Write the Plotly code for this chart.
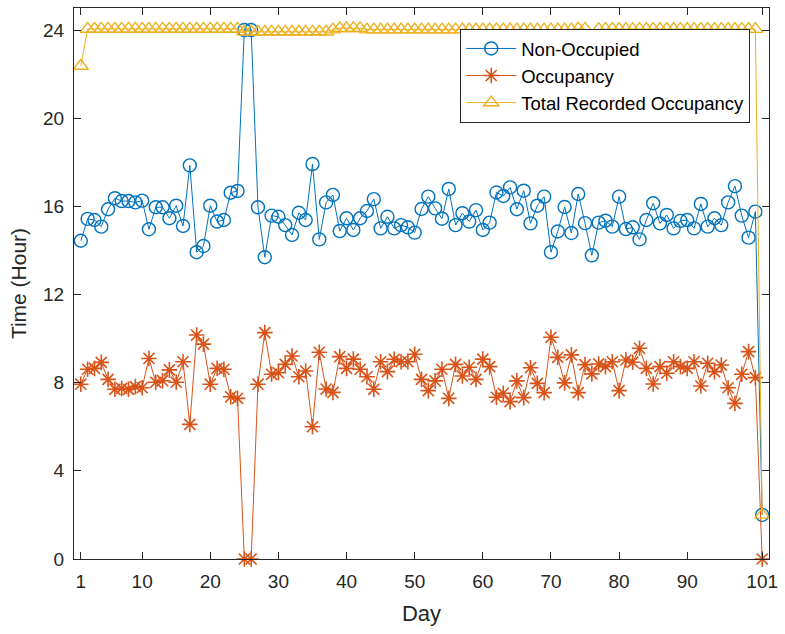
import plotly.graph_objects as go

# Daily hours per category over the 101-day recording period
days = list(range(1, 102))

non_occupied = [
    14.44, 15.43, 15.38, 15.08, 15.87, 16.37, 16.24, 16.24, 16.18, 16.26,
    14.96, 15.96, 15.96, 15.46, 16.03, 15.11, 17.86, 13.92, 14.20, 16.03,
    15.31, 15.38, 16.62, 16.70, 24.00, 24.00, 15.96, 13.69, 15.58, 15.53,
    15.15, 14.70, 15.71, 15.38, 17.92, 14.50, 16.18, 16.52, 14.88, 15.46,
    14.93, 15.46, 15.79, 16.33, 15.00, 15.53, 15.00, 15.15, 15.05, 14.81,
    15.88, 16.44, 15.91, 15.44, 16.79, 15.15, 15.69, 15.31, 15.83, 14.93,
    15.26, 16.63, 16.47, 16.86, 15.87, 16.71, 15.23, 16.03, 16.44, 13.92,
    14.86, 15.97, 14.79, 16.56, 15.24, 13.78, 15.26, 15.35, 15.08, 16.44,
    14.97, 15.05, 14.50, 15.38, 16.14, 15.23, 15.61, 15.00, 15.34, 15.38,
    15.00, 16.11, 15.08, 15.46, 15.15, 16.18, 16.92, 15.58, 14.58, 15.76,
    2.00,
]

occupancy = [
    7.93, 8.61, 8.65, 8.92, 8.15, 7.70, 7.74, 7.70, 7.82, 7.77,
    9.10, 8.02, 8.09, 8.58, 8.02, 8.95, 6.11, 10.16, 9.75, 7.93,
    8.65, 8.61, 7.36, 7.29, 0.00, 0.00, 7.93, 10.27, 8.38, 8.45,
    8.83, 9.21, 8.27, 8.53, 6.00, 9.38, 7.71, 7.56, 9.18, 8.65,
    9.07, 8.61, 8.27, 7.70, 8.95, 8.50, 9.06, 8.95, 8.95, 9.29,
    8.15, 7.64, 8.08, 8.61, 7.29, 8.83, 8.30, 8.70, 8.15, 9.07,
    8.73, 7.34, 7.52, 7.14, 8.08, 7.32, 8.68, 7.97, 7.55, 10.06,
    9.15, 7.99, 9.26, 7.55, 8.82, 8.40, 8.85, 8.73, 8.95, 7.64,
    9.03, 8.93, 9.56, 8.65, 7.94, 8.73, 8.43, 8.95, 8.73, 8.65,
    8.95, 7.85, 8.88, 8.50, 8.80, 7.77, 7.06, 8.38, 9.41, 8.23,
    0.00,
]

total_recorded = (
    [22.37]
    + [24.05] * 23      # days 2-24
    + [23.92] * 13      # days 25-37
    + [24.02]           # day 38
    + [24.08] * 4       # days 39-42
    + [24.02] * 31      # days 43-73
    + [24.06, 24.05]    # days 74-75
    + [22.20]           # day 76
    + [24.04] * 24      # days 77-100
    + [2.00]            # day 101
)

x_tick_vals = [1, 10, 20, 30, 40, 50, 60, 70, 80, 90, 101]
y_tick_vals = [0, 4, 8, 12, 16, 20, 24]

BLUE = "#0072BD"
ORANGE = "#D95319"
YELLOW = "#EDB120"
AXIS = "#262626"
FONT = "Liberation Sans, Arial, sans-serif"

fig = go.Figure()

fig.add_trace(go.Scatter(
    x=days, y=non_occupied, name="Non-Occupied", mode="lines+markers",
    line=dict(color=BLUE, width=1),
    marker=dict(symbol="circle-open", size=13, color=BLUE, line=dict(width=1.4, color=BLUE)),
    cliponaxis=False,
))
fig.add_trace(go.Scatter(
    x=days, y=occupancy, name="Occupancy", mode="lines+markers",
    line=dict(color=ORANGE, width=1),
    marker=dict(symbol="asterisk-open", size=13, color=ORANGE, line=dict(width=1.6, color=ORANGE)),
    cliponaxis=False,
))
fig.add_trace(go.Scatter(
    x=days, y=total_recorded, name="Total Recorded Occupancy", mode="lines+markers",
    line=dict(color=YELLOW, width=1),
    marker=dict(symbol="triangle-up-open", size=13, color=YELLOW, line=dict(width=1.4, color=YELLOW)),
    cliponaxis=False,
))

axis_common = dict(
    showline=True, linecolor=AXIS, linewidth=1, mirror="allticks",
    ticks="inside", ticklen=7, tickwidth=1.2, tickcolor=AXIS,
    showgrid=False, zeroline=False, ticklabelstandoff=5,
    tickfont=dict(family=FONT, size=19, color=AXIS),
)

fig.update_xaxes(
    range=[0, 102], tickmode="array", tickvals=x_tick_vals,
    ticktext=[str(v) for v in x_tick_vals],
    title=dict(text="Day", font=dict(family=FONT, size=22, color=AXIS), standoff=14),
    **axis_common,
)
fig.update_yaxes(
    range=[0, 25], tickmode="array", tickvals=y_tick_vals,
    ticktext=[str(v) for v in y_tick_vals],
    title=dict(text="Time (Hour)", font=dict(family=FONT, size=21, color=AXIS), standoff=10),
    **axis_common,
)

fig.update_layout(
    width=785, height=634,
    margin=dict(l=74, r=14, t=7, b=75),
    paper_bgcolor="white", plot_bgcolor="white",
    font=dict(family=FONT, color=AXIS),
    legend=dict(
        x=0.973, y=0.962, xanchor="right", yanchor="top",
        bgcolor="white", bordercolor=AXIS, borderwidth=1,
        font=dict(family=FONT, size=18.5, color="black"),
        itemwidth=50, tracegroupgap=0,
    ),
    showlegend=True,
)

fig.write_html("out.html")
